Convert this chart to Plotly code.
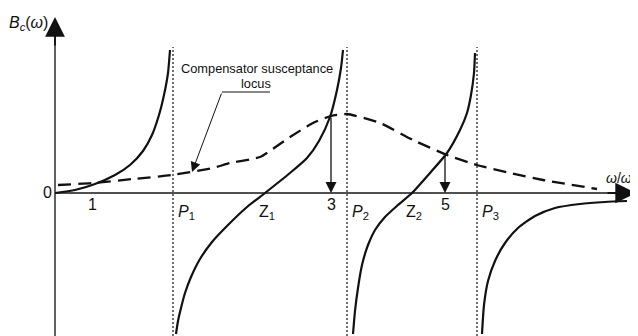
import plotly.graph_objects as go

INK = "#111111"
AXIS = "#505050"
FONT = "Liberation Sans, Arial, sans-serif"

# schematic units: x measured from the B_c axis, y measured from the ω/ω1 axis
branch1_x = [0, 20, 40, 60, 75, 88, 97, 104, 109, 113, 115]
branch1_y = [0, 3, 9, 18, 28, 42, 58, 78, 98, 120, 143]

branch2_x = [121, 123, 126, 130, 136, 145, 157, 172, 192, 210, 235, 252, 264, 275, 282, 286, 288]
branch2_y = [-141, -128, -115, -100, -84, -66, -49, -33, -14, 0, 20, 35, 52, 76, 103, 125, 143]

branch3_x = [298, 300, 303, 307, 313, 320, 330, 343, 357, 375, 392, 405, 412, 416, 419, 420]
branch3_y = [-141, -118, -95, -72, -52, -37, -24, -12, 0, 20, 40, 63, 80, 98, 120, 140]

branch4_x = [427, 429, 433, 440, 450, 463, 480, 500, 525, 550, 572]
branch4_y = [-141, -112, -88, -68, -50, -35, -23, -15, -11, -9, -8]

locus_x = [3, 38, 78, 117, 158, 175, 205, 235, 258, 276, 292, 325, 358, 392, 422, 455, 488, 542]
locus_y = [8, 10, 14, 18, 25, 30, 36, 56, 70, 77, 79, 70, 53, 38, 28, 20, 13, 4]

pole_x = [118, 292, 422]
pole_labels = ["<i>P</i><sub>1</sub>", "<i>P</i><sub>2</sub>", "<i>P</i><sub>3</sub>"]
zero_x = [210, 357]
zero_labels = ["Z<sub>1</sub>", "Z<sub>2</sub>"]
tick_x = [37, 276, 390]
tick_labels = ["1", "3", "5"]
cross_x = [276, 390]
cross_y = [77, 39]

Y_BOTTOM, Y_TOP, X_END = -143, 176, 581
POLE_TOP = 146

fig = go.Figure()

for px in pole_x:
    fig.add_trace(go.Scatter(x=[px, px], y=[Y_BOTTOM, POLE_TOP], mode="lines",
                             line=dict(color=INK, width=1.2, dash="2px,2px")))

# axes
fig.add_trace(go.Scatter(x=[0, 0], y=[Y_BOTTOM, Y_TOP - 10], mode="lines",
                         line=dict(color=AXIS, width=1.8)))
fig.add_trace(go.Scatter(x=[0, X_END - 10], y=[0, 0], mode="lines",
                         line=dict(color=AXIS, width=1.8)))

for bx, by in [(branch1_x, branch1_y), (branch2_x, branch2_y),
               (branch3_x, branch3_y), (branch4_x, branch4_y)]:
    fig.add_trace(go.Scatter(x=bx, y=by, mode="lines",
                             line=dict(color=INK, width=2.2, shape="spline", smoothing=0.6)))

fig.add_trace(go.Scatter(x=locus_x, y=locus_y, mode="lines",
                         line=dict(color=INK, width=2.3, dash="13px,7px",
                                   shape="spline", smoothing=0.5)))

# leader for the locus label
fig.add_trace(go.Scatter(x=[167, 215], y=[101, 101], mode="lines",
                         line=dict(color=INK, width=1)))

ann = []
# axis arrowheads
ann.append(dict(x=0, y=Y_TOP, ax=0, ay=Y_TOP - 30, xref="x", yref="y", axref="x", ayref="y",
                showarrow=True, arrowhead=2, arrowwidth=1.8, arrowsize=2.2, arrowcolor=INK, text=""))
ann.append(dict(x=X_END, y=0, ax=X_END - 30, ay=0, xref="x", yref="y", axref="x", ayref="y",
                showarrow=True, arrowhead=2, arrowwidth=1.8, arrowsize=2.3, arrowcolor=INK, text=""))
# projection arrows
for cx, cy in zip(cross_x, cross_y):
    ann.append(dict(x=cx, y=0, ax=cx, ay=cy, xref="x", yref="y", axref="x", ayref="y",
                    showarrow=True, arrowhead=2, arrowwidth=1.3, arrowsize=1.7, arrowcolor=INK, text=""))
# locus pointer
ann.append(dict(x=137, y=21, ax=167, ay=101, xref="x", yref="y", axref="x", ayref="y",
                showarrow=True, arrowhead=2, arrowwidth=1, arrowsize=2.0, arrowcolor=INK, text=""))

def label(text, x, y, size=16, xanchor="center"):
    ann.append(dict(x=x, y=y, text=text, showarrow=False, xref="x", yref="y",
                    xanchor=xanchor, yanchor="middle",
                    font=dict(family=FONT, size=size, color=INK)))

for tx, tl in zip(tick_x, tick_labels):
    label(tl, tx, -11)
for px, pl in zip(pole_x, pole_labels):
    label(pl, px + 3, -19, xanchor="left")
for zx, zl in zip(zero_x, zero_labels):
    label(zl, zx - 8, -19, xanchor="left")
label("0", -8, 1)
label("<i>B</i><sub><i>c</i></sub>(<i>ω</i>)", -27, 170)
label("<i>ω</i>/<i>ω</i><sub>1</sub>", 549, 14, size=14, xanchor="left")
label("Compensator susceptance", 202, 125, size=12.8)
label("locus", 201, 110, size=12.8)

# the page body adds an 8px offset, so the figure is sized and ranged to the visible area
fig.update_layout(
    width=630, height=328, autosize=False,
    margin=dict(l=0, r=0, t=0, b=0),
    paper_bgcolor="white", plot_bgcolor="white",
    showlegend=False, hovermode=False,
    xaxis=dict(range=[-47, 583], visible=False, fixedrange=True),
    yaxis=dict(range=[-143, 185], visible=False, fixedrange=True),
    annotations=ann,
)

fig.write_html("out.html")
